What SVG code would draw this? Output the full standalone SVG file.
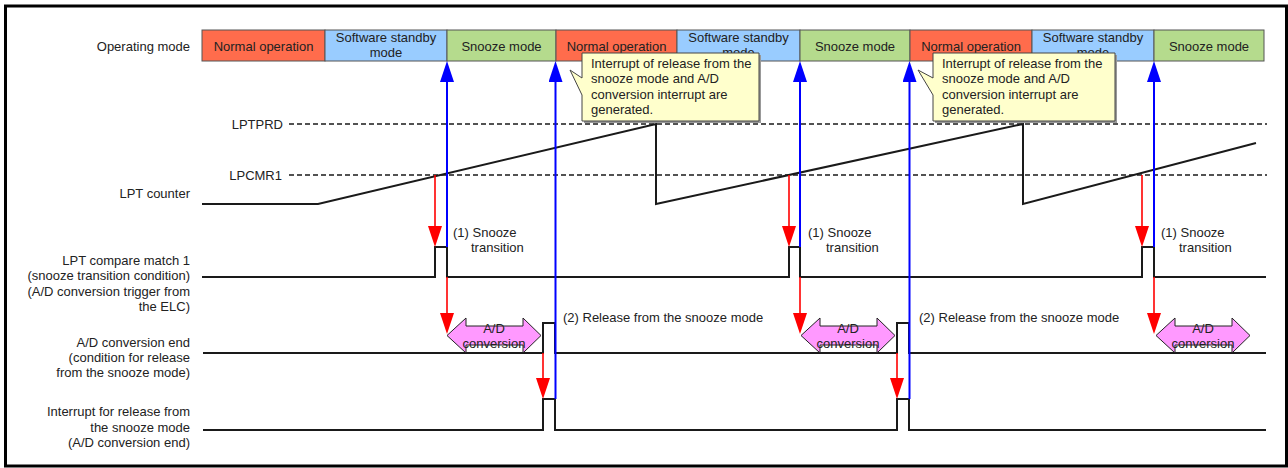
<svg xmlns="http://www.w3.org/2000/svg" width="1288" height="468" viewBox="0 0 1288 468">
<style>
text{font-family:"Liberation Sans",Arial,sans-serif;font-size:13px;fill:#222}
.r{text-anchor:end}
.c{text-anchor:middle}
.cell{stroke:#555;stroke-width:1}
.no{fill:#FF6C4C}
.sb{fill:#99CCFF}
.sn{fill:#B5DB8D}
.sig{fill:none;stroke:#1a1a1a;stroke-width:2}
.dash{fill:none;stroke:#1a1a1a;stroke-width:1.5;stroke-dasharray:5 3}
.blue{stroke:#0000FF;stroke-width:2;fill:none;marker-end:url(#hb)}
.red{stroke:#FF0000;stroke-width:1.6;fill:none;marker-end:url(#hr)}
.call{fill:#FFFFCC;stroke:#444;stroke-width:1}
.shadow{fill:#999;stroke:none}
.ad{fill:#FF99FF;stroke:#222;stroke-width:1}
</style>
<defs>
<marker id="hb" viewBox="0 0 21 14" refX="13" refY="7" markerWidth="21" markerHeight="14" markerUnits="userSpaceOnUse" orient="auto">
<path d="M0,0 L21,7 L0,14 Z" fill="#0000FF"/>
</marker>
<marker id="hr" viewBox="0 0 21 14" refX="13" refY="7" markerWidth="21" markerHeight="14" markerUnits="userSpaceOnUse" orient="auto">
<path d="M0,0 L21,7 L0,14 Z" fill="#FF0000"/>
</marker>
</defs>
<rect x="0" y="0" width="1288" height="468" fill="#fff"/>
<rect x="5.5" y="6" width="1281" height="460" fill="none" stroke="#000" stroke-width="3"/>

<g id="labels">
<text class="r" x="190" y="50.5">Operating mode</text>
<text class="r" x="283" y="128.5">LPTPRD</text>
<text class="r" x="282" y="179.5">LPCMR1</text>
<text class="r" x="190" y="197.5">LPT counter</text>
<text class="r" x="190" y="264.5">LPT compare match 1</text>
<text class="r" x="190" y="280">(snooze transition condition)</text>
<text class="r" x="190" y="295.5">(A/D conversion trigger from</text>
<text class="r" x="190" y="311">the ELC)</text>
<text class="r" x="190" y="346.5">A/D conversion end</text>
<text class="r" x="190" y="361.5">(condition for release</text>
<text class="r" x="190" y="376.5">from the snooze mode)</text>
<text class="r" x="190" y="416">Interrupt for release from</text>
<text class="r" x="190" y="431.5">the snooze mode</text>
<text class="r" x="190" y="447">(A/D conversion end)</text>
</g>

<g id="mode-bar">
<g id="mode1"><rect class="cell no" x="202" y="30" width="123" height="31"/><text class="c" x="263.5" y="50.5">Normal operation</text></g>
<g id="mode2"><rect class="cell sb" x="325" y="30" width="122" height="31"/><text class="c" x="386" y="41.5">Software standby</text><text class="c" x="386" y="56.5">mode</text></g>
<g id="mode3"><rect class="cell sn" x="447" y="30" width="109" height="31"/><text class="c" x="501.5" y="50.5">Snooze mode</text></g>
<g id="mode4"><rect class="cell no" x="556" y="30" width="121" height="31"/><text class="c" x="616.5" y="50.5">Normal operation</text></g>
<g id="mode5"><rect class="cell sb" x="677" y="30" width="123" height="31"/><text class="c" x="738.5" y="41.5">Software standby</text><text class="c" x="738.5" y="56.5">mode</text></g>
<g id="mode6"><rect class="cell sn" x="800" y="30" width="110" height="31"/><text class="c" x="855" y="50.5">Snooze mode</text></g>
<g id="mode7"><rect class="cell no" x="910" y="30" width="122" height="31"/><text class="c" x="971" y="50.5">Normal operation</text></g>
<g id="mode8"><rect class="cell sb" x="1032" y="30" width="122" height="31"/><text class="c" x="1093" y="41.5">Software standby</text><text class="c" x="1093" y="56.5">mode</text></g>
<g id="mode9"><rect class="cell sn" x="1154" y="30" width="110" height="31"/><text class="c" x="1209" y="50.5">Snooze mode</text></g>
</g>

<g id="signals">
<line class="dash" x1="289" y1="124" x2="1267" y2="124"/>
<line class="dash" x1="289" y1="175" x2="1267" y2="175"/>
<path id="lpt-counter" class="sig" d="M202,204 H318 L656,124 V204 L1023,124 V204 L1256,143"/>
<path id="compare-match" class="sig" d="M202,277 H435 V247 H447 V277 H789 V247 H800 V277 H1142 V247 H1154 V277 H1266"/>
<path id="ad-end" class="sig" d="M203,353 H543 V323 H555 V353 H897 V323 H909 V353 H1266"/>
<path id="interrupt" class="sig" d="M203,430 H543 V399 H555 V430 H897 V399 H909 V430 H1266"/>
</g>

<g id="ad-conversion">
<g id="ad1"><polygon class="ad" points="447,335.5 466,318 466,326 523,326 523,318 541,335.5 523,353 523,345 466,345 466,353"/><text class="c" x="494" y="332.5">A/D</text><text class="c" x="494" y="347.5">conversion</text></g>
<g id="ad2"><polygon class="ad" points="801,335.5 820,318 820,326 877,326 877,318 895,335.5 877,353 877,345 820,345 820,353"/><text class="c" x="848" y="332.5">A/D</text><text class="c" x="848" y="347.5">conversion</text></g>
<g id="ad3"><polygon class="ad" points="1156,335.5 1175,318 1175,326 1232,326 1232,318 1250,335.5 1232,353 1232,345 1175,345 1175,353"/><text class="c" x="1203" y="332.5">A/D</text><text class="c" x="1203" y="347.5">conversion</text></g>
</g>

<g id="notes">
<text x="453" y="236.5">(1) Snooze</text><text x="471" y="251.5">transition</text>
<text x="808" y="236.5">(1) Snooze</text><text x="826" y="251.5">transition</text>
<text x="1161" y="236.5">(1) Snooze</text><text x="1179" y="251.5">transition</text>
<text x="563" y="321.5">(2) Release from the snooze mode</text>
<text x="919" y="321.5">(2) Release from the snooze mode</text>
</g>

<g id="callout1">
<rect class="shadow" x="584" y="55" width="177" height="68"/>
<path class="call" d="M582,53 H759 V121 H582 V95 L570,70 L582,78 Z"/>
<text x="591" y="67.5">Interrupt of release from the</text>
<text x="591" y="83">snooze mode and A/D</text>
<text x="591" y="98.5">conversion interrupt are</text>
<text x="591" y="114">generated.</text>
</g>
<g id="callout2">
<rect class="shadow" x="935" y="55" width="182" height="68"/>
<path class="call" d="M933,53 H1115 V121 H933 V95 L918,70 L933,78 Z"/>
<text x="942" y="67.5">Interrupt of release from the</text>
<text x="942" y="83">snooze mode and A/D</text>
<text x="942" y="98.5">conversion interrupt are</text>
<text x="942" y="114">generated.</text>
</g>

<g id="connectors">
<line class="blue" x1="447" y1="247" x2="447" y2="69"/>
<line class="blue" x1="555.5" y1="399" x2="555.5" y2="69"/>
<line class="blue" x1="800" y1="247" x2="800" y2="69"/>
<line class="blue" x1="909.5" y1="399" x2="909.5" y2="69"/>
<line class="blue" x1="1154" y1="247" x2="1154" y2="69"/>
<line class="red" x1="435" y1="175" x2="435" y2="239"/>
<line class="red" x1="447" y1="277" x2="447" y2="326"/>
<line class="red" x1="543" y1="353" x2="543" y2="391"/>
<line class="red" x1="789" y1="175" x2="789" y2="239"/>
<line class="red" x1="800" y1="277" x2="800" y2="326"/>
<line class="red" x1="897" y1="353" x2="897" y2="391"/>
<line class="red" x1="1142" y1="175" x2="1142" y2="239"/>
<line class="red" x1="1154" y1="277" x2="1154" y2="326"/>
</g>
</svg>
